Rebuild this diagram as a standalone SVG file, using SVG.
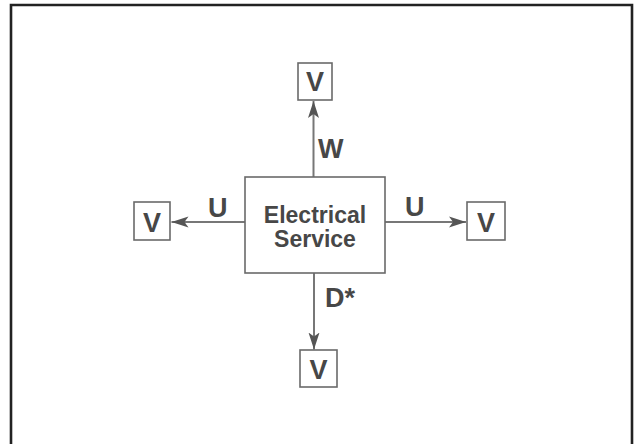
<svg xmlns="http://www.w3.org/2000/svg" width="637" height="444" viewBox="0 0 637 444">
<style>
.box{fill:#fff;stroke:#6a6a6a;stroke-width:1.6}
.conn{stroke:#777;stroke-width:2;fill:none}
.lbl{font-family:"Liberation Sans",Arial,sans-serif;font-weight:bold;fill:#474747}
.big{font-size:27px}
.mid{font-size:23px}
</style>
<defs>
<marker id="ah" markerUnits="userSpaceOnUse" markerWidth="18" markerHeight="12" refX="17" refY="6" orient="auto">
<path d="M0,0.5 L17,6 L0,11.5 L4,6 Z" fill="#555"/>
</marker>
</defs>
<rect width="637" height="444" fill="#fff"/>
<path d="M11,444 V5 H632 V444" fill="none" stroke="#222" stroke-width="2.6"/>
<g id="connectors">
<line class="conn" x1="313.5" y1="177" x2="313.5" y2="101" marker-end="url(#ah)"/>
<line class="conn" x1="245" y1="222" x2="171.5" y2="222" marker-end="url(#ah)"/>
<line class="conn" x1="385" y1="222" x2="466" y2="222" marker-end="url(#ah)"/>
<line class="conn" x1="314" y1="273" x2="314" y2="349.5" marker-end="url(#ah)"/>
<text class="lbl big" x="318" y="158">W</text>
<text class="lbl big" x="208" y="217">U</text>
<text class="lbl big" x="405" y="216">U</text>
<text class="lbl big" x="325" y="307">D*</text>
</g>
<g id="electrical-service">
<rect class="box" x="245" y="177" width="140" height="96"/>
<text class="lbl mid" x="315" y="223" text-anchor="middle">Electrical</text>
<text class="lbl mid" x="315" y="247" text-anchor="middle">Service</text>
</g>
<g id="v-top">
<rect class="box" x="298" y="63" width="34" height="37"/>
<text class="lbl big" x="315" y="91" text-anchor="middle">V</text>
</g>
<g id="v-left">
<rect class="box" x="134" y="202" width="36" height="38"/>
<text class="lbl big" x="152" y="232" text-anchor="middle">V</text>
</g>
<g id="v-right">
<rect class="box" x="467" y="202" width="38" height="38"/>
<text class="lbl big" x="486" y="232" text-anchor="middle">V</text>
</g>
<g id="v-bottom">
<rect class="box" x="300" y="350" width="37" height="37"/>
<text class="lbl big" x="318.5" y="379" text-anchor="middle">V</text>
</g>
</svg>
